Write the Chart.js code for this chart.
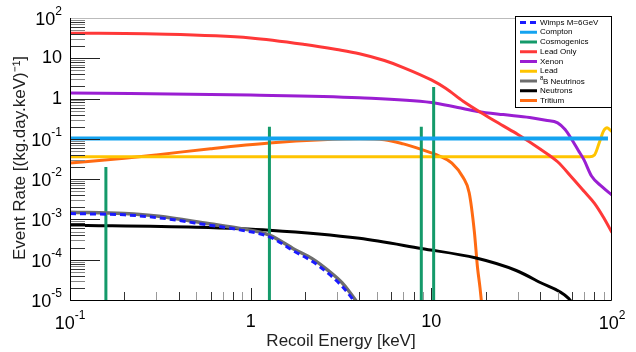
<!DOCTYPE html>
<html>
<head>
<meta charset="utf-8">
<script src="https://cdn.jsdelivr.net/npm/chart.js@4.4.1/dist/chart.umd.min.js"></script>
<style>
  body { margin: 0; background: #fff; }
  canvas { display: block; }
</style>
</head>
<body>
<canvas id="rates" width="636" height="352"></canvas>
<script>
// Recoil energies (keV) and event rates per background source
const wimpE = [0.1, 0.2, 0.31, 0.59, 0.87, 1.27, 1.75, 2.2, 2.7, 3.2, 3.7, 4.0];
const wimpRate = [1.4e-3, 1.3e-3, 1.1e-3, 7.2e-4, 5.5e-4, 3.7e-4, 1.6e-4, 9e-5, 4.5e-5, 2.2e-5, 1e-5, 6e-6];

const b8E = [0.1, 0.2, 0.31, 0.59, 0.87, 1.27, 1.75, 2.2, 2.7, 3.2, 3.8, 4.1];
const b8Rate = [1.5e-3, 1.4e-3, 1.2e-3, 7.8e-4, 6e-4, 4.1e-4, 1.8e-4, 1.05e-4, 5.3e-5, 2.7e-5, 1e-5, 6e-6];

const comptonE = [0.1, 95];
const comptonRate = [0.102, 0.102];

const cosmoE = [0.158, 1.27, 8.8, 10.3];
const cosmoPeak = [0.02, 0.2, 0.2, 1.95];

const leadOnlyE = [0.1, 0.3, 1, 2, 3, 4, 5.5, 7, 10, 12, 15, 20, 25, 30, 40, 50, 60, 70, 80, 90, 100];
const leadOnlyRate = [42, 40, 32, 22, 16.5, 13, 8.8, 5.9, 2.9, 1.8, 0.86, 0.38, 0.21, 0.13, 0.056, 0.027, 0.011, 0.005, 0.0025, 0.0011, 4.7e-4];

const xenonE = [0.1, 1, 4, 10, 14, 18, 25, 35, 43, 50, 55, 60, 65, 70, 77, 88, 100];
const xenonRate = [1.38, 1.22, 1.05, 0.8, 0.6, 0.48, 0.4, 0.34, 0.29, 0.25, 0.17, 0.095, 0.052, 0.03, 0.012, 0.0065, 0.004];

const leadE = [0.1, 75, 80, 85, 90, 94, 97, 100];
const leadRate = [0.036, 0.036, 0.04, 0.08, 0.16, 0.19, 0.17, 0.15];

const neutronE = [0.1, 0.5, 1.27, 4, 8.8, 17.7, 29.5, 39.5, 57.5, 65];
const neutronRate = [7.2e-4, 6.4e-4, 5.4e-4, 3.4e-4, 1.9e-4, 1.1e-4, 5.4e-5, 2.8e-5, 1.1e-5, 5e-6];

const tritiumE = [0.1, 0.2, 0.3, 0.6, 1.27, 2.5, 4, 5.5, 7, 8.8, 10, 11, 13, 15, 16.2, 17.3, 18, 18.6, 19.2];
const tritiumRate = [0.025, 0.033, 0.04, 0.057, 0.079, 0.095, 0.1, 0.095, 0.075, 0.055, 0.045, 0.038, 0.025, 0.011, 0.0046, 5e-4, 6.6e-5, 2e-5, 5e-6];

// Tick values and labels: [base, exponent]
const xTickValues = [0.1, 1, 10, 100];
const xTickLabels = [['10', '-1'], ['1', ''], ['10', ''], ['10', '2']];
const yTickValues = [100, 10, 1, 0.1, 0.01, 1e-3, 1e-4, 1e-5];
const yTickLabels = [['10', '2'], ['10', ''], ['1', ''], ['10', '-1'], ['10', '-2'], ['10', '-3'], ['10', '-4'], ['10', '-5']];

const FONT = '"Liberation Sans", Arial, sans-serif';

function pts(xs, ys) {
    return xs.map((x, i) => ({ x: x, y: ys[i] }));
}

// vertical lines from below the axis floor up to each peak
function spikes(xs, peaks) {
    const out = [];
    xs.forEach((x, i) => {
        out.push({ x: x, y: 1e-6 });
        out.push({ x: x, y: peaks[i] });
        out.push({ x: x, y: null });
    });
    return out;
}

function curve(label, data, color, width, extra) {
    return Object.assign({
        label: label,
        data: data,
        borderColor: color,
        backgroundColor: color,
        borderWidth: width,
        pointRadius: 0,
        fill: false,
        cubicInterpolationMode: 'monotone',
        order: 2
    }, extra || {});
}

const datasets = [
    curve('Wimps M=6GeV', pts(wimpE, wimpRate), '#1a1aff', 3, { borderDash: [6, 4], order: 0 }),
    curve('Compton', pts(comptonE, comptonRate), '#14a3f0', 4),
    curve('Cosmogenics', spikes(cosmoE, cosmoPeak), '#149a6a', 3, { cubicInterpolationMode: 'default', tension: 0, spanGaps: false }),
    curve('Lead Only', pts(leadOnlyE, leadOnlyRate), '#ff3838', 3),
    curve('Xenon', pts(xenonE, xenonRate), '#9a1ed2', 3),
    curve('Lead', pts(leadE, leadRate), '#ffc400', 3),
    curve('8B Neutrinos', pts(b8E, b8Rate), '#6e6e6e', 3.5, { order: 1 }),
    curve('Neutrons', pts(neutronE, neutronRate), '#000000', 3),
    curve('Tritium', pts(tritiumE, tritiumRate), '#ff6a12', 3)
];

function drawPowerLabel(ctx, parts, x, y, align) {
    ctx.font = '18px ' + FONT;
    const bw = ctx.measureText(parts[0]).width;
    ctx.font = '12px ' + FONT;
    const ew = parts[1] ? ctx.measureText(parts[1]).width : 0;
    const total = bw + ew;
    let left = align === 'right' ? x - total : x - total / 2;
    const by = parts[1] ? y + 2 : y;
    ctx.textBaseline = 'middle';
    ctx.textAlign = 'left';
    ctx.font = '18px ' + FONT;
    ctx.fillText(parts[0], left, by);
    if (parts[1]) {
        ctx.font = '12px ' + FONT;
        ctx.fillText(parts[1], left + bw, by - 8);
    }
}

// frame, inward ticks, tick labels, axis titles and legend
const framePlugin = {
    id: 'frame',
    afterDatasetsDraw(chart) {
        const ctx = chart.ctx;
        const a = chart.chartArea;
        const xs = chart.scales.x;
        const ys = chart.scales.y;
        ctx.save();

        // ticks
        ctx.lineWidth = 1;
        for (let d = -1; d < 2; d++) {
            for (let m = 1; m < 10; m++) {
                const v = m * Math.pow(10, d);
                const px = Math.round(xs.getPixelForValue(v)) + 0.5;
                ctx.strokeStyle = m === 1 ? '#222' : (m % 2 ? '#999' : '#333');
                ctx.beginPath();
                ctx.moveTo(px, a.bottom);
                ctx.lineTo(px, a.bottom - (m === 1 ? 12 : 8));
                ctx.stroke();
            }
        }
        for (let d = -5; d < 2; d++) {
            for (let m = 1; m < 10; m++) {
                const v = m * Math.pow(10, d);
                const py = Math.round(ys.getPixelForValue(v)) + 0.5;
                ctx.strokeStyle = m === 1 ? '#222' : (m % 2 ? '#888' : '#333');
                ctx.beginPath();
                ctx.moveTo(a.left, py);
                ctx.lineTo(a.left + (m === 1 ? 30 : 15), py);
                ctx.stroke();
            }
        }

        // frame
        ctx.strokeStyle = '#bbb';
        ctx.beginPath();
        ctx.moveTo(a.left, a.top + 0.5);
        ctx.lineTo(a.right, a.top + 0.5);
        ctx.stroke();
        ctx.strokeStyle = '#000';
        ctx.beginPath();
        ctx.moveTo(a.left + 0.5, a.top);
        ctx.lineTo(a.left + 0.5, a.bottom + 0.5);
        ctx.lineTo(a.right - 0.5, a.bottom + 0.5);
        ctx.lineTo(a.right - 0.5, a.top);
        ctx.stroke();

        // tick labels
        ctx.fillStyle = '#000';
        xTickValues.forEach((v, i) => {
            drawPowerLabel(ctx, xTickLabels[i], xs.getPixelForValue(v), a.bottom + 22, 'center');
        });
        yTickValues.forEach((v, i) => {
            drawPowerLabel(ctx, yTickLabels[i], a.left - 8, ys.getPixelForValue(v), 'right');
        });

        // axis titles
        ctx.fillStyle = '#222';
        ctx.font = '17px ' + FONT;
        ctx.textAlign = 'center';
        ctx.textBaseline = 'middle';
        ctx.fillText('Recoil Energy [keV]', (a.left + a.right) / 2, 341);
        ctx.save();
        ctx.translate(20, 158);
        ctx.rotate(-Math.PI / 2);
        ctx.fillText('Event Rate [(kg.day.keV)\u207B\u00B9]', 0, 0);
        ctx.restore();

        // legend box
        const lx = 515, ly = 16, lw = a.right - 515, lh = 91;
        ctx.fillStyle = '#fff';
        ctx.fillRect(lx, ly, lw, lh);
        ctx.strokeStyle = '#000';
        ctx.lineWidth = 1;
        ctx.strokeRect(lx + 0.5, ly + 0.5, lw - 1, lh);
        chart.data.datasets.forEach((ds, i) => {
            const ry = 22.5 + i * 9.75;
            ctx.strokeStyle = ds.borderColor;
            ctx.lineWidth = 3;
            ctx.setLineDash(ds.borderDash || []);
            ctx.beginPath();
            ctx.moveTo(520, ry);
            ctx.lineTo(537, ry);
            ctx.stroke();
            ctx.setLineDash([]);
            ctx.fillStyle = '#000';
            ctx.font = '8px ' + FONT;
            ctx.textAlign = 'left';
            ctx.textBaseline = 'middle';
            if (ds.label === '8B Neutrinos') {
                ctx.font = '6px ' + FONT;
                ctx.fillText('8', 540, ry - 3);
                ctx.font = '8px ' + FONT;
                ctx.fillText('B Neutrinos', 543, ry + 1);
            } else {
                ctx.fillText(ds.label, 540, ry);
            }
        });

        ctx.restore();
    }
};

new Chart(document.getElementById('rates'), {
    type: 'line',
    data: { datasets: datasets },
    options: {
        responsive: false,
        animation: false,
        devicePixelRatio: 1,
        layout: { padding: { left: 70, right: 24, top: 18, bottom: 52 } },
        scales: {
            x: { type: 'logarithmic', min: 0.1, max: 100, display: false },
            y: { type: 'logarithmic', min: 1e-5, max: 100, display: false }
        },
        plugins: {
            legend: { display: false },
            tooltip: { enabled: false }
        }
    },
    plugins: [framePlugin]
});
</script>
</body>
</html>
